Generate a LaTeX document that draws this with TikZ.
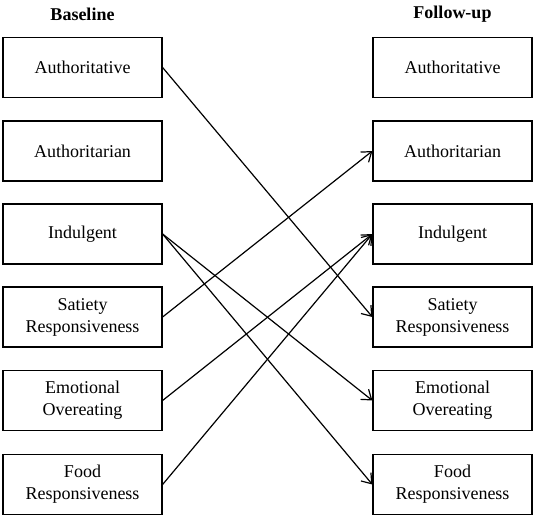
\documentclass[tikz,border=0pt]{standalone}
\usepackage{fontspec}
\setmainfont{Liberation Serif}
\usetikzlibrary{positioning, arrows.meta}

\begin{document}
\begin{tikzpicture}[x=1pt,y=-1pt,
  box/.style={draw, line width=1.2pt, minimum width=159pt, minimum height=60pt,
    align=center, inner sep=0pt, font=\fontsize{18}{22}\selectfont},
  head/.style={font=\fontsize{18}{22}\selectfont\bfseries},
  link/.style={-{Straight Barb[length=9pt,width=13pt]}, line width=1.2pt}]
  \useasboundingbox (0,0) rectangle (536,518);
  % column titles
  \node[head] (base) at (82.5,14) {Baseline};
  \node[head] (follow) at (452.5,14) {Follow-up};
  % baseline boxes
  \node[box] (l1) at (82.5,67.5) {Authoritative};
  \node[box] (l2) at (82.5,151) {Authoritarian};
  \node[box] (l3) at (82.5,234) {Indulgent};
  \node[box] (l4) at (82.5,317) {Satiety\\Responsiveness};
  \node[box] (l5) at (82.5,400.5) {Emotional\\Overeating};
  \node[box] (l6) at (82.5,484.5) {Food\\Responsiveness};
  % follow-up boxes
  \node[box] (r1) at (452.5,67.5) {Authoritative};
  \node[box] (r2) at (452.5,151) {Authoritarian};
  \node[box] (r3) at (452.5,234) {Indulgent};
  \node[box] (r4) at (452.5,317) {Satiety\\Responsiveness};
  \node[box] (r5) at (452.5,400.5) {Emotional\\Overeating};
  \node[box] (r6) at (452.5,484.5) {Food\\Responsiveness};
  % cross-lagged paths
  \draw[link] (l1.east) -- (r4.west);
  \draw[link] (l4.east) -- (r2.west);
  \draw[link] (l3.east) -- (r5.west);
  \draw[link] (l3.east) -- (r6.west);
  \draw[link] (l5.east) -- (r3.west);
  \draw[link] (l6.east) -- (r3.west);
\end{tikzpicture}
\end{document}
